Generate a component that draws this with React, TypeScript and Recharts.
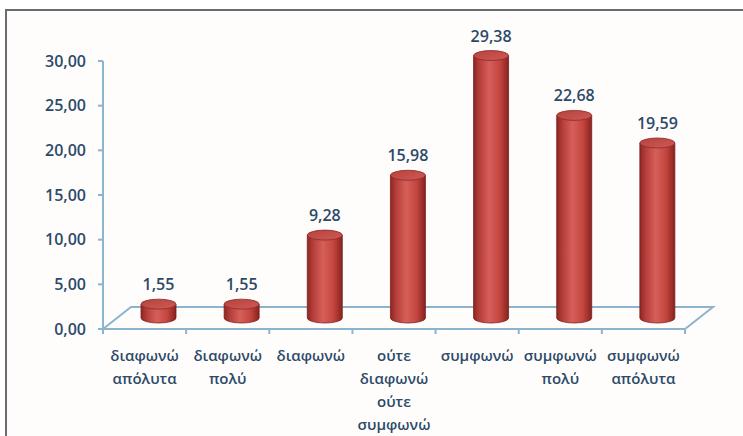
import { BarChart, Bar, XAxis, YAxis, CartesianGrid, LabelList } from 'recharts'

// κατηγορίες (με αλλαγή γραμμής όπως στο πρωτότυπο)
const categories = [
  'διαφωνώ\nαπόλυτα',
  'διαφωνώ\nπολύ',
  'διαφωνώ',
  'ούτε\nδιαφωνώ\nούτε\nσυμφωνώ',
  'συμφωνώ',
  'συμφωνώ\nπολύ',
  'συμφωνώ\nαπόλυτα',
]
const values = [1.55, 1.55, 9.28, 15.98, 29.38, 22.68, 19.59]
const yTicks = [0, 5, 10, 15, 20, 25, 30]

const data = categories.map((c, i) => ({ name: c, value: values[i] }))

// 3D look: bars sit half-way into the floor depth
const DEPTH_X = 28
const DEPTH_Y = 22
const DX = DEPTH_X / 2
const DY = -DEPTH_Y / 2
const RY = 5

const TEXT = '#2c4a68'
const AXIS = '#8db4cf'
const FONT = '"Open Sans", "DejaVu Sans", sans-serif'

const fmt = (v: number) => v.toFixed(2).replace('.', ',')

const Cylinder = (props: any) => {
  const { x, y, width, height } = props
  const x0 = x + DX
  const x1 = x0 + width
  const cx = x0 + width / 2
  const rx = width / 2
  const top = y + DY
  const base = y + height + DY
  return (
    <g>
      <defs>
        <linearGradient id="cylBody" x1="0" y1="0" x2="1" y2="0">
          <stop offset="0%" stopColor="#8e2623" />
          <stop offset="18%" stopColor="#b8403c" />
          <stop offset="45%" stopColor="#d65f5a" />
          <stop offset="75%" stopColor="#c4453f" />
          <stop offset="100%" stopColor="#87221f" />
        </linearGradient>
        <linearGradient id="cylTop" x1="0" y1="0" x2="1" y2="1">
          <stop offset="0%" stopColor="#b6423e" />
          <stop offset="100%" stopColor="#cf5a55" />
        </linearGradient>
      </defs>
      <path
        d={`M${x0},${top} L${x0},${base} A${rx},${RY} 0 0 0 ${x1},${base} L${x1},${top} Z`}
        fill="url(#cylBody)"
        stroke="#7a1f1c"
        strokeWidth={0.8}
      />
      <ellipse cx={cx} cy={top} rx={rx} ry={RY} fill="url(#cylTop)" stroke="#8a2a27" strokeWidth={0.8} />
    </g>
  )
}

const ValueLabel = (props: any) => {
  const { x, y, width, value } = props
  return (
    <text
      x={x + width / 2 + DX}
      y={y + DY - RY - 9}
      textAnchor="middle"
      fontFamily={FONT}
      fontSize={16}
      fontWeight={600}
      fill={TEXT}
    >
      {fmt(value)}
    </text>
  )
}

const CategoryTick = (props: any) => {
  const { x, y, payload } = props
  const lines = String(payload.value).split('\n')
  return (
    <g>
      {lines.map((l, i) => (
        <text
          key={i}
          x={x}
          y={y + 24 + i * 23}
          textAnchor="middle"
          fontFamily={FONT}
          fontSize={15}
          fontWeight={600}
          fill={TEXT}
        >
          {l}
        </text>
      ))}
    </g>
  )
}

// δάπεδο (παραλληλόγραμμο) με υποδιαιρέσεις κατηγοριών, σχεδιάζεται στη γραμμή του 0
const Floor = (props: any) => {
  const { x1, y1, x2 } = props
  const y = y1
  const n = categories.length
  const step = (x2 - x1) / n
  const ticks = Array.from({ length: n + 1 }, (_, i) => x1 + i * step)
  return (
    <g key="floor" stroke={AXIS} strokeWidth={2} fill="none">
      <path
        d={`M${x1},${y} L${x1 + DEPTH_X},${y - DEPTH_Y} L${x2 + DEPTH_X},${y - DEPTH_Y} L${x2},${y} Z`}
      />
      {ticks.map((t, i) => (
        <line key={i} x1={t} y1={y} x2={t} y2={y + 5} />
      ))}
    </g>
  )
}

export default function App() {
  return (
    <div style={{ position: 'fixed', left: 0, top: 0, width: 743, height: 436, background: '#fff', overflow: 'hidden' }}>
      <div
        style={{
          position: 'absolute',
          left: 5,
          top: 9,
          width: 760,
          height: 460,
          borderTop: '2px solid #6b6b6b',
          borderLeft: '2px solid #6b6b6b',
          background: '#fffdfc',
        }}
      />
      <div style={{ position: 'absolute', left: 0, top: 0 }}>
        <BarChart
          width={743}
          height={436}
          data={data}
          margin={{ top: 61, right: 58, bottom: 17, left: 15 }}
          barSize={35}
        >
          <CartesianGrid
            vertical={false}
            horizontalValues={[0]}
            horizontal={(p: any) => <Floor key={p.key ?? 'floor'} {...p} />}
          />
          <XAxis
            dataKey="name"
            interval={0}
            height={90}
            axisLine={false}
            tickLine={false}
            tick={<CategoryTick />}
          />
          <YAxis
            width={88}
            domain={[0, 30]}
            ticks={yTicks}
            tickFormatter={fmt}
            axisLine={{ stroke: AXIS, strokeWidth: 2 }}
            tickLine={{ stroke: AXIS, strokeWidth: 2 }}
            tickSize={5}
            tickMargin={12}
            tick={{ fontFamily: FONT, fontSize: 16, fontWeight: 600, fill: TEXT }}
          />
          <Bar dataKey="value" shape={<Cylinder />} isAnimationActive={false}>
            <LabelList dataKey="value" content={<ValueLabel />} />
          </Bar>
        </BarChart>
      </div>
    </div>
  )
}
